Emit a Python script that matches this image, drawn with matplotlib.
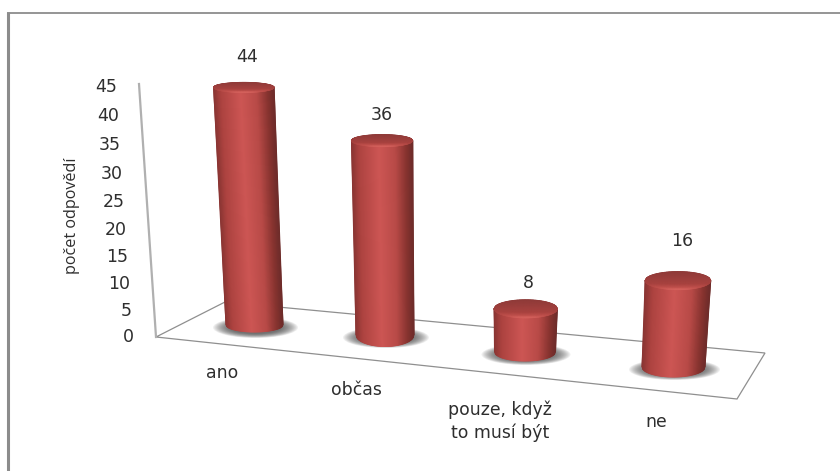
import matplotlib
matplotlib.use('Agg')
import matplotlib.pyplot as plt
from matplotlib.patches import Ellipse, Polygon
from matplotlib.colors import LinearSegmentedColormap
import numpy as np

categories = ['ano', 'občas', 'pouze, když\nto musí být', 'ne']
values = [44, 36, 8, 16]
axis_ticks = [0, 5, 10, 15, 20, 25, 30, 35, 40, 45]
axis_title = 'počet odpovědí'

# floor centres of the cylinders and where the labels sit, in pixels
base_x = [254.5, 385, 525, 673.5]
base_y = [325, 335, 352, 367]
base_a = [28.5, 29, 30.5, 31.5]
base_b = [7, 11.5, 9, 10]
top_b = [5, 6, 9, 9]
cat_x = [222, 356, 500, 656]
cat_y = [373, 390, 421, 422]
label_dx = [3, 0, 3, 4]
label_dy = [-30, -26, -26, -40]

W, H = 840, 471
UNIT = 5.4        # px per unit of height
LEAN = 0.00124    # walls lean away from x=450
TEXT = '#2e2e2e'

body_cmap = LinearSegmentedColormap.from_list('body', [
    (0.0, '#8a3533'), (0.12, '#ad4340'), (0.45, '#cd5654'),
    (0.72, '#b84a47'), (0.90, '#86332f'), (1.0, '#6e2c2a')])
lid_cmap = LinearSegmentedColormap.from_list('lid', [
    (0.0, '#8e3a38'), (0.7, '#a8423f'), (0.9, '#c0504c'), (1.0, '#d8645f')])


def top_of(x, y, v):
    return x + (x - 450) * LEAN * v, y - UNIT * v


def axis_y(v):
    return 337 - 5.2 * v - 0.0081 * v ** 2


def cylinder(ax, x, y, a, b, bt, v):
    tx, ty = top_of(x, y, v)
    at = a + 0.0175 * v + 1

    # soft shadow on the floor
    for k in np.linspace(1.0, 0.6, 16):
        ax.add_patch(Ellipse((x + 1, y + 2.5), 2 * (a + 14) * k, 2 * 10.5 * k,
                             fc='#444444', ec='none', alpha=0.08, zorder=3))

    # body as a smooth mesh between the floor ellipse and the lid ellipse
    u = np.linspace(-1, 1, 61)
    front = np.sqrt(1 - u ** 2)
    X = np.vstack([x + a * u, tx + at * u])
    Y = np.vstack([y + b * front, ty + bt * front])
    C = np.vstack([(u + 1) / 2, (u + 1) / 2])
    ax.pcolormesh(X, Y, C, shading='gouraud', cmap=body_cmap, vmin=0, vmax=1, zorder=4)

    # lid, shaded from back to front
    u = np.linspace(-1, 1, 41)
    s = np.linspace(-1, 1, 21)[:, None]
    half = np.sqrt(1 - u ** 2)
    X = np.tile(tx + at * u, (21, 1))
    Y = ty + bt * s * half
    C = (s * half + 1) / 2
    ax.pcolormesh(X, Y, C, shading='gouraud', cmap=lid_cmap, vmin=0, vmax=1, zorder=5)


fig = plt.figure(figsize=(W / 100, H / 100), dpi=100)
ax = fig.add_axes([0, 0, 1, 1])
ax.set_xlim(0, W)
ax.set_ylim(H, 0)
ax.axis('off')

# outer frame, only left and top are visible
ax.plot([8, 8], [12, H], color='#8c8c8c', lw=2.2, solid_capstyle='butt')
ax.plot([7, W], [12.5, 12.5], color='#8c8c8c', lw=1.3, solid_capstyle='butt')

# floor outline and value axis
floor = [(156, 337), (225, 302), (765, 353), (737, 399)]
ax.add_patch(Polygon(floor, closed=True, fc='white', ec='#8f8f8f', lw=0.9, zorder=1))
ax.plot([156, 139], [337, 84], color='#b0b0b0', lw=1.6, zorder=2)

for t in axis_ticks:
    ax.text(134 - 0.37 * t, axis_y(t), str(t), ha='right', va='center',
            fontsize=12.5, color=TEXT, family='DejaVu Sans')

ax.text(72, 216, axis_title, rotation=90, ha='center', va='center',
        fontsize=11.6, color=TEXT, family='Open Sans')

for i, v in enumerate(values):
    cylinder(ax, base_x[i], base_y[i], base_a[i], base_b[i], top_b[i], v)
    tx, ty = top_of(base_x[i], base_y[i], v)
    ax.text(tx + label_dx[i], ty + label_dy[i], str(v), ha='center', va='center',
            fontsize=12.5, color=TEXT, family='DejaVu Sans')
    ax.text(cat_x[i], cat_y[i], categories[i], ha='center', va='center', linespacing=1.3,
            fontsize=12.4, color=TEXT, family='DejaVu Sans')

fig.savefig('out.png', dpi=100)
plt.close()
